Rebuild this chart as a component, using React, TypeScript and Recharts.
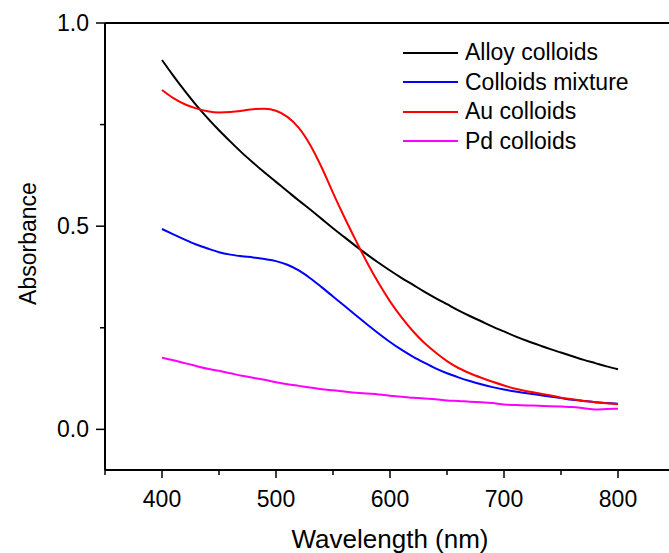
import React from 'react'
import { LineChart, Line, XAxis, YAxis, ReferenceLine, Legend } from 'recharts'

const wavelengths = [
  400, 410, 420, 430, 440, 450, 460, 470, 480, 490,
  500, 510, 520, 530, 540, 550, 560, 570, 580, 590,
  600, 610, 620, 630, 640, 650, 660, 670, 680, 690,
  700, 710, 720, 730, 740, 750, 760, 770, 780, 790, 800,
]

const alloyColloids = [
  0.909, 0.87, 0.833, 0.798, 0.766, 0.736, 0.708, 0.681, 0.656, 0.632,
  0.609, 0.586, 0.563, 0.541, 0.518, 0.495, 0.473, 0.451, 0.43, 0.41,
  0.391, 0.373, 0.356, 0.339, 0.323, 0.308, 0.293, 0.279, 0.266, 0.253,
  0.241, 0.229, 0.218, 0.208, 0.198, 0.189, 0.18, 0.171, 0.163, 0.155, 0.148,
]

const colloidsMixture = [
  0.493, 0.48, 0.467, 0.455, 0.445, 0.436, 0.43, 0.426, 0.423, 0.419,
  0.414, 0.405, 0.391, 0.372, 0.35, 0.327, 0.304, 0.281, 0.258, 0.236,
  0.215, 0.196, 0.179, 0.164, 0.15, 0.138, 0.128, 0.119, 0.111, 0.104,
  0.098, 0.093, 0.089, 0.085, 0.081, 0.077, 0.073, 0.07, 0.067, 0.065, 0.063,
]

const auColloids = [
  0.835, 0.815, 0.8, 0.79, 0.783, 0.78, 0.781, 0.784, 0.788, 0.789,
  0.784, 0.769, 0.742, 0.7, 0.645, 0.582, 0.522, 0.465, 0.41, 0.36,
  0.315, 0.276, 0.242, 0.213, 0.189, 0.168, 0.151, 0.138, 0.127, 0.117,
  0.108, 0.1, 0.094, 0.089, 0.084, 0.078, 0.074, 0.07, 0.067, 0.064, 0.062,
]

const pdColloids = [
  0.176, 0.17, 0.163, 0.156, 0.149, 0.144, 0.138, 0.132, 0.127, 0.122,
  0.116, 0.111, 0.107, 0.103, 0.099, 0.096, 0.093, 0.09, 0.088, 0.086,
  0.083, 0.08, 0.078, 0.076, 0.074, 0.071, 0.07, 0.068, 0.067, 0.065,
  0.061, 0.06, 0.059, 0.058, 0.057, 0.056, 0.055, 0.052, 0.049, 0.05, 0.051,
]

const seriesNames = ['Alloy colloids', 'Colloids mixture', 'Au colloids', 'Pd colloids']
const xTicks = [350, 400, 450, 500, 550, 600, 650, 700, 750, 800, 850]
const yTicks = [0, 0.25, 0.5, 0.75, 1.0]

const data = wavelengths.map((w, i) => ({
  wavelength: w,
  alloy: alloyColloids[i],
  mixture: colloidsMixture[i],
  au: auColloids[i],
  pd: pdColloids[i],
}))

const FONT = '"Liberation Sans", Arial, sans-serif'

const XTick = (props: any) => {
  const { x, y, payload } = props
  const major = payload.value % 100 === 0
  return (
    <g>
      <line x1={x} y1={y} x2={x} y2={y + (major ? 8 : 5)} stroke="#000" strokeWidth={1.5} />
      {major && (
        <text x={x} y={y + 37} textAnchor="middle" fontSize={23} fontFamily={FONT} fill="#000">
          {payload.value}
        </text>
      )}
    </g>
  )
}

const YTick = (props: any) => {
  const { x, y, payload } = props
  const major = Math.round(payload.value * 100) % 50 === 0
  return (
    <g>
      <line x1={x} y1={y} x2={x - (major ? 9 : 5)} y2={y} stroke="#000" strokeWidth={1.5} />
      {major && (
        <text x={x - 16} y={y + 8} textAnchor="end" fontSize={23} fontFamily={FONT} fill="#000">
          {payload.value.toFixed(1)}
        </text>
      )}
    </g>
  )
}

const LegendBox = (props: any) => {
  const items = [...(props.payload || [])].sort(
    (a: any, b: any) => seriesNames.indexOf(a.value) - seriesNames.indexOf(b.value)
  )
  return (
    <div style={{ fontFamily: FONT, fontSize: 23, color: '#000' }}>
      {items.map((p: any) => (
        <div key={p.value} style={{ display: 'flex', alignItems: 'center', height: 29.5 }}>
          <svg width={62} height={4} style={{ display: 'block' }}>
            <line x1={0} y1={2} x2={55} y2={2} stroke={p.color} strokeWidth={2} />
          </svg>
          <span style={{ lineHeight: '29px', whiteSpace: 'nowrap' }}>{p.value}</span>
        </div>
      ))}
    </div>
  )
}

export default function App() {
  return (
    <div style={{ position: 'absolute', left: 0, top: 0, width: 669, height: 553, overflow: 'hidden', background: '#fff' }}>
      <LineChart width={700} height={553} data={data} margin={{ top: 23, right: 25, left: 45, bottom: 23 }}>
        <XAxis
          dataKey="wavelength"
          type="number"
          domain={[350, 850]}
          ticks={xTicks}
          interval={0}
          tickSize={0}
          tickMargin={0}
          tickLine={false}
          tick={<XTick />}
          axisLine={{ stroke: '#000', strokeWidth: 2 }}
          height={60}
          label={(p: any) => (
            <text
              x={p.viewBox.x + p.viewBox.width / 2}
              y={p.viewBox.y + 78}
              textAnchor="middle"
              fontSize={26}
              fontFamily={FONT}
              fill="#000"
            >
              Wavelength (nm)
            </text>
          )}
        />
        <YAxis
          type="number"
          domain={[-0.1, 1.0]}
          ticks={yTicks}
          interval={0}
          tickSize={0}
          tickMargin={0}
          tickLine={false}
          tick={<YTick />}
          axisLine={{ stroke: '#000', strokeWidth: 2 }}
          width={60}
          label={(p: any) => {
            const cy = p.viewBox.y + p.viewBox.height / 2 - 3
            return (
              <text
                x={36}
                y={cy}
                transform={`rotate(-90 36 ${cy})`}
                textAnchor="middle"
                fontSize={23}
                fontFamily={FONT}
                fill="#000"
              >
                Absorbance
              </text>
            )
          }}
        />
        <ReferenceLine y={1.0} stroke="#000" strokeWidth={2} ifOverflow="visible" />
        <ReferenceLine x={850} stroke="#000" strokeWidth={2} ifOverflow="visible" />
        <Legend
          layout="vertical"
          align="center"
          verticalAlign="middle"
          content={<LegendBox />}
          wrapperStyle={{ position: 'absolute', left: 403, top: 38, width: 270, height: 125 }}
        />
        <Line type="monotone" name="Alloy colloids" dataKey="alloy" stroke="#000000" strokeWidth={2} dot={false} isAnimationActive={false} />
        <Line type="monotone" name="Colloids mixture" dataKey="mixture" stroke="#0000ff" strokeWidth={2} dot={false} isAnimationActive={false} />
        <Line type="monotone" name="Au colloids" dataKey="au" stroke="#ff0000" strokeWidth={2} dot={false} isAnimationActive={false} />
        <Line type="monotone" name="Pd colloids" dataKey="pd" stroke="#ff00ff" strokeWidth={2} dot={false} isAnimationActive={false} />
      </LineChart>
    </div>
  )
}
